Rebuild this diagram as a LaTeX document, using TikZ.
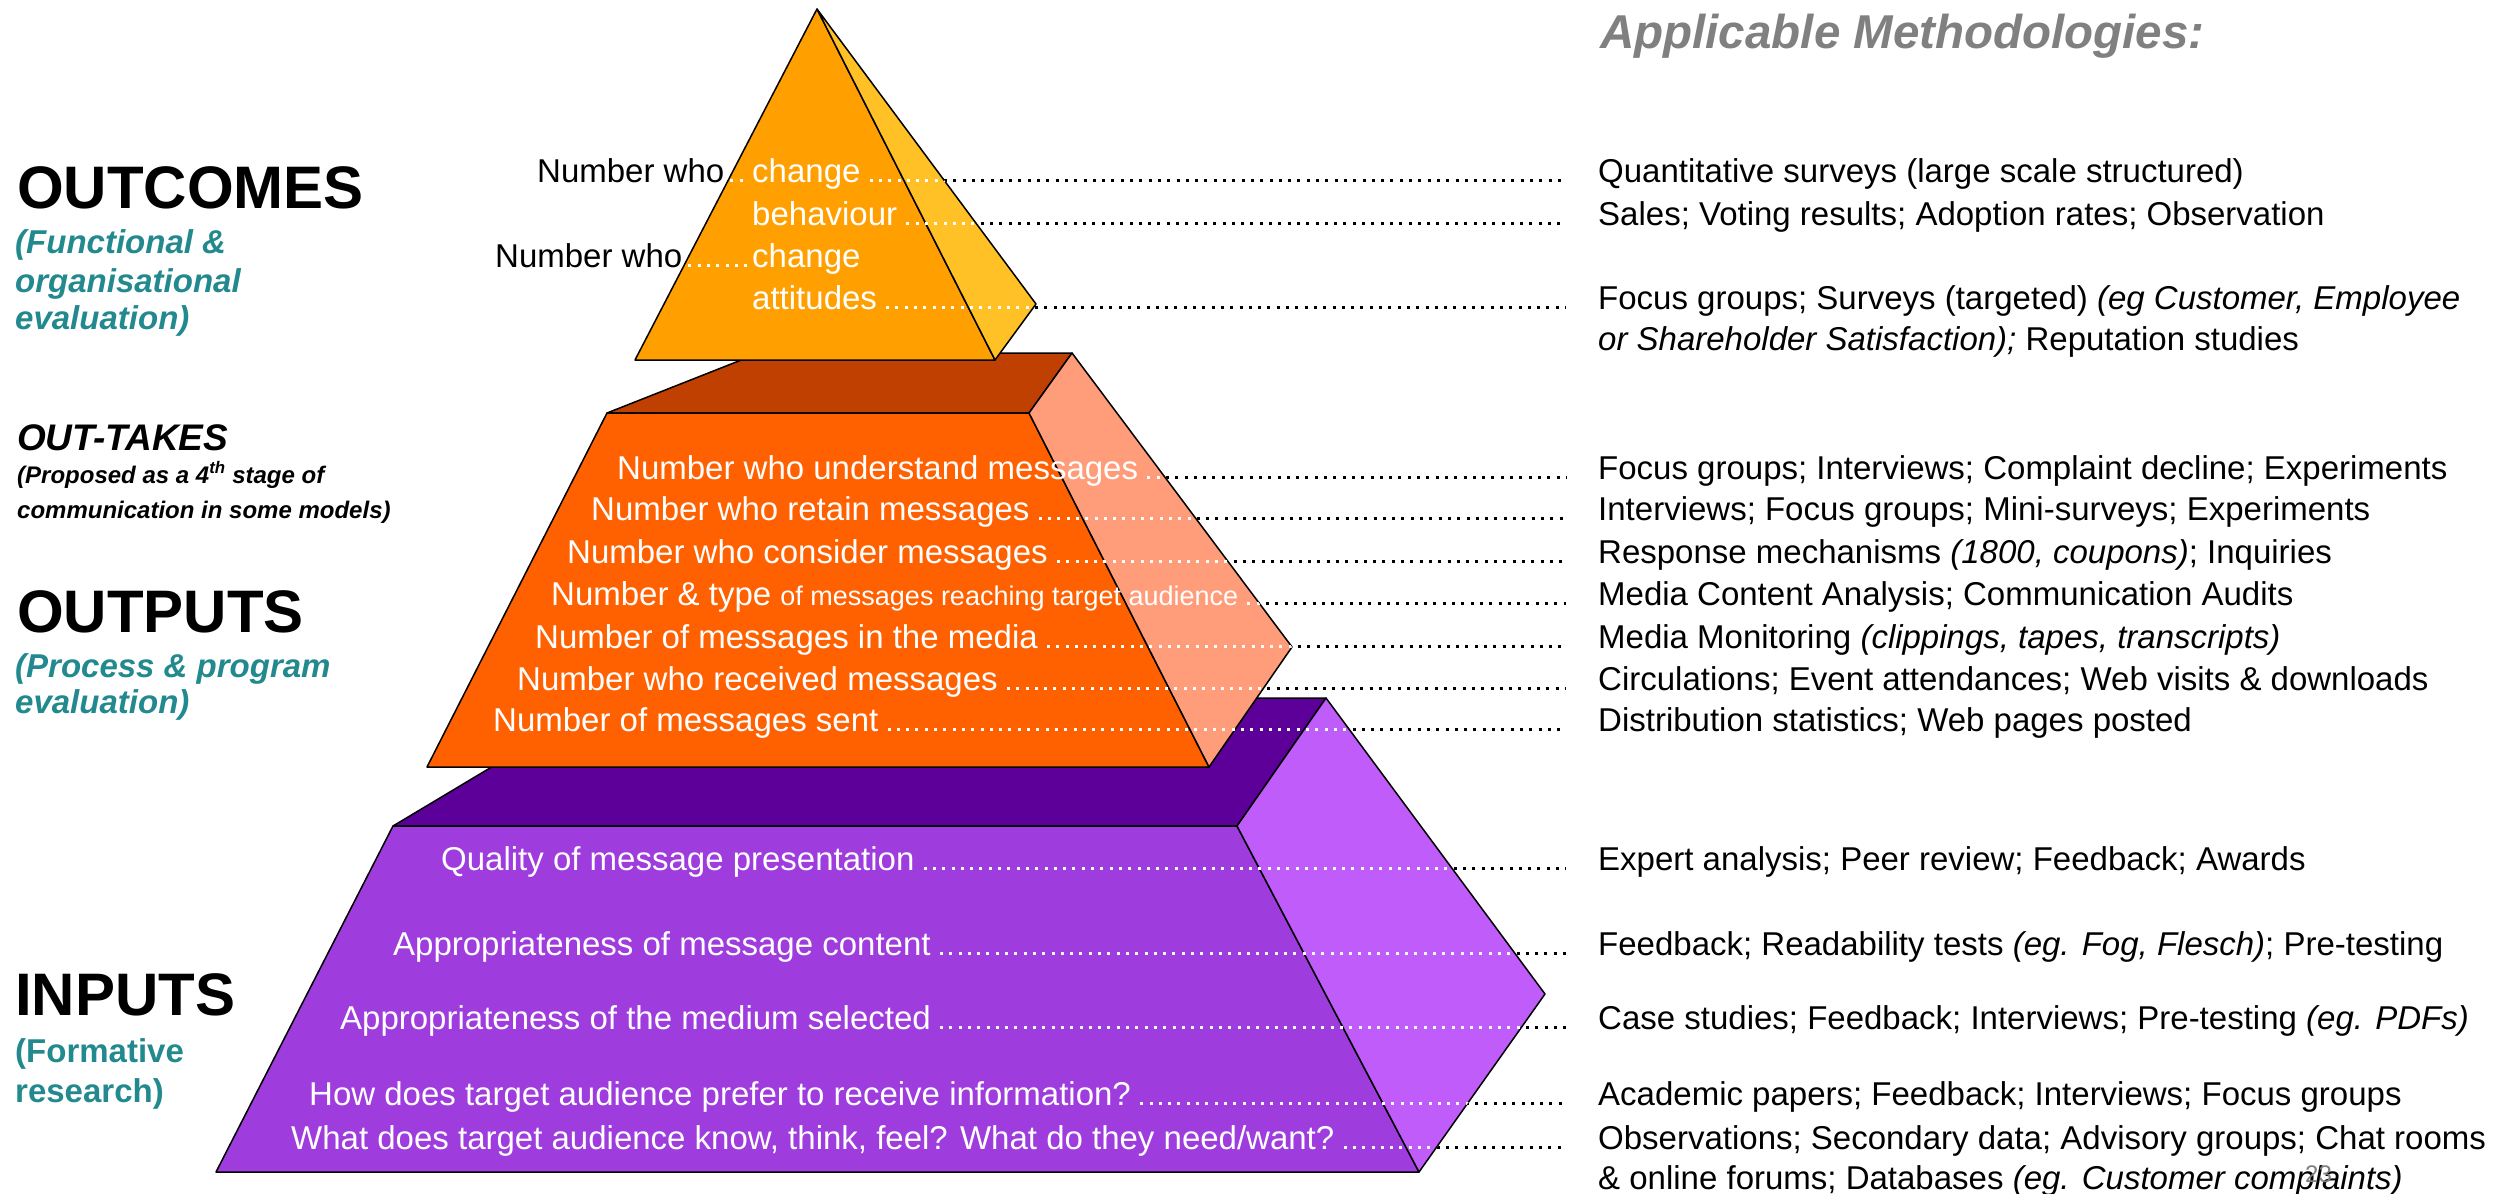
\documentclass[tikz,border=0pt]{standalone}
\usepackage{fontspec}
\setmainfont{Liberation Sans}
\definecolor{pyrfront}{HTML}{FFA000}
\definecolor{pyrside}{HTML}{FFC125}
\definecolor{outtop}{HTML}{BF4000}
\definecolor{outfront}{HTML}{FF6000}
\definecolor{outside}{HTML}{FF9D7A}
\definecolor{intop}{HTML}{5C0099}
\definecolor{infront}{HTML}{9E3CDD}
\definecolor{inside}{HTML}{BF5CFA}
\definecolor{tealtxt}{HTML}{22898E}
\definecolor{headgray}{HTML}{808080}
\begin{document}
\begin{tikzpicture}[x=1pt,y=-1pt,
  lbl/.style={anchor=base west, inner sep=0pt, font=\fontsize{33}{38}\selectfont},
  wlbl/.style={lbl, text=white},
  meth/.style={lbl, text=black},
  bighead/.style={anchor=base west, inner sep=0pt, font=\fontsize{60}{66}\selectfont\bfseries},
  subhead/.style={anchor=base west, inner sep=0pt, text=tealtxt, font=\fontsize{33}{38}\selectfont\bfseries\itshape},
  face/.style={draw=black, line width=1.5pt, line join=round},
  bdots/.style={draw=black, line width=3pt, dash pattern=on 3pt off 6.3pt},
  wdots/.style={draw=white, line width=3pt, dash pattern=on 3pt off 6.3pt}]
\useasboundingbox (0,0) rectangle (2506,1194);

% ---------- INPUTS block (back)
\filldraw[face, fill=intop] (393,826) -- (607,698) -- (1326,698) -- (1237,826) -- cycle;
\filldraw[face, fill=infront] (393,826) -- (1237,826) -- (1419,1172) -- (216,1172) -- cycle;
\filldraw[face, fill=inside] (1237,826) -- (1326,698) -- (1545,994) -- (1419,1172) -- cycle;

% ---------- OUTPUTS block
\filldraw[face, fill=outtop] (607,413) -- (759,353) -- (1072,353) -- (1029,413) -- cycle;
\filldraw[face, fill=outfront] (607,413) -- (1029,413) -- (1209,767) -- (427,767) -- cycle;
\filldraw[face, fill=outside] (1029,413) -- (1072,353) -- (1292,647) -- (1209,767) -- cycle;

% ---------- OUTCOMES pyramid
\filldraw[face, fill=pyrfront] (817,9) -- (635,360) -- (995,360) -- cycle;
\filldraw[face, fill=pyrside] (817,9) -- (995,360) -- (1036,304) -- cycle;

% ---------- left headings
\node[bighead] (hout) at (17,208) {OUTCOMES};
\node[subhead] (hout1) at (15,253) {(Functional \&};
\node[subhead] (hout2) at (15,292) {organisational};
\node[subhead] (hout3) at (15,329) {evaluation)};
\node[anchor=base west, inner sep=0pt, font=\fontsize{37}{42}\selectfont\bfseries\itshape] (htake) at (17,450) {OUT-TAKES};
\node[anchor=base west, inner sep=0pt, font=\fontsize{24}{28}\selectfont\bfseries\itshape] (htake1) at (17,483) {(Proposed as a 4\textsuperscript{th} stage of};
\node[anchor=base west, inner sep=0pt, font=\fontsize{24}{28}\selectfont\bfseries\itshape] (htake2) at (17,518) {communication in some models)};
\node[bighead] (hop) at (17,632) {OUTPUTS};
\node[subhead] (hop1) at (15,677) {(Process \& program};
\node[subhead] (hop2) at (15,713) {evaluation)};
\node[bighead] (hin) at (15,1015) {INPUTS};
\node[subhead, font=\fontsize{33}{38}\selectfont\bfseries] (hin1) at (15,1062) {(Formative};
\node[subhead, font=\fontsize{33}{38}\selectfont\bfseries] (hin2) at (15,1102) {research)};

% ---------- right heading
\node[anchor=base west, inner sep=0pt, text=headgray, font=\fontsize{47.5}{53}\selectfont\bfseries\itshape] (happ) at (1600,48) {Applicable Methodologies:};

% ---------- pyramid labels
\node[lbl] (nw1) at (537,182) {Number who};
\node[wlbl] (ch1) at (752,182) {change};
\node[wlbl] (bh) at (752,225) {behaviour};
\node[lbl] (nw2) at (495,267) {Number who};
\node[wlbl] (ch2) at (752,267) {change};
\node[wlbl] (att) at (752,309) {attitudes};

% ---------- outputs labels
\node[wlbl] (o1) at (617,479) {Number who understand messages};
\node[wlbl] (o2) at (591,520) {Number who retain messages};
\node[wlbl] (o3) at (567,563) {Number who consider messages};
\node[wlbl] (o4) at (551,605) {Number \& type {\fontsize{27}{30}\selectfont of messages reaching target audience}};
\node[wlbl] (o5) at (535,648) {Number of messages in the media};
\node[wlbl] (o6) at (517,690) {Number who received messages};
\node[wlbl] (o7) at (493,731) {Number of messages sent};

% ---------- inputs labels
\node[wlbl] (i1) at (441,870) {Quality of message presentation};
\node[wlbl] (i2) at (393,955) {Appropriateness of message content};
\node[wlbl] (i3) at (340,1029) {Appropriateness of the medium selected};
\node[wlbl] (i4) at (309,1105) {How does target audience prefer to receive information?};
\node[wlbl] (i5) at (291,1149) {What does target audience know, think, feel? What do they need/want?};

% ---------- methodologies
\node[meth] (m1) at (1598,182) {Quantitative surveys (large scale structured)};
\node[meth] (m2) at (1598,225) {Sales; Voting results; Adoption rates; Observation};
\node[meth] (m3) at (1598,309) {Focus groups; Surveys (targeted) \textit{(eg Customer, Employee}};
\node[meth] (m3b) at (1598,350) {\textit{or Shareholder Satisfaction);} Reputation studies};
\node[meth] (n1) at (1598,479) {Focus groups; Interviews; Complaint decline; Experiments};
\node[meth] (n2) at (1598,520) {Interviews; Focus groups; Mini-surveys; Experiments};
\node[meth] (n3) at (1598,563) {Response mechanisms \textit{(1800, coupons)}; Inquiries};
\node[meth] (n4) at (1598,605) {Media Content Analysis; Communication Audits};
\node[meth] (n5) at (1598,648) {Media Monitoring \textit{(clippings, tapes, transcripts)}};
\node[meth] (n6) at (1598,690) {Circulations; Event attendances; Web visits \& downloads};
\node[meth] (n7) at (1598,731) {Distribution statistics; Web pages posted};
\node[meth] (p1) at (1598,870) {Expert analysis; Peer review; Feedback; Awards};
\node[meth] (p2) at (1598,955) {Feedback; Readability tests \textit{(eg. Fog, Flesch)}; Pre-testing};
\node[meth] (p3) at (1598,1029) {Case studies; Feedback; Interviews; Pre-testing \textit{(eg. PDFs)}};
\node[meth] (p4) at (1598,1105) {Academic papers; Feedback; Interviews; Focus groups};
\node[meth] (p5) at (1598,1149) {Observations; Secondary data; Advisory groups; Chat rooms};
\node[meth] (p5b) at (1598,1189) {\& online forums; Databases \textit{(eg. Customer complaints)}};
\node[anchor=base west, inner sep=0pt, text=headgray, font=\fontsize{24}{28}\selectfont] (pg) at (2305,1182) {23};

% ---------- dotted leaders
\def\rowpairs{ch1/m1, bh/m2, att/m3, o1/n1, o2/n2, o3/n3, o4/n4, o5/n5, o6/n6, o7/n7, i1/p1, i2/p2, i3/p3, i4/p4, i5/p5}
\def\innerpairs{nw1/ch1, nw2/ch2}
\foreach \a/\b in \rowpairs
  \draw[bdots] ([xshift=9pt,yshift=2pt]\a.base east) -- ([xshift=-32pt,yshift=2pt]\b.base west);
\foreach \a/\b in \innerpairs
  \draw[bdots] ([xshift=6pt,yshift=2pt]\a.base east) -- ([xshift=-3pt,yshift=2pt]\b.base west);

\begin{scope}
  \clip (817,9) -- (635,360) -- (995,360) -- (1036,304) -- cycle;
  \foreach \a/\b in \rowpairs
    \draw[wdots] ([xshift=9pt,yshift=2pt]\a.base east) -- ([xshift=-32pt,yshift=2pt]\b.base west);
  \foreach \a/\b in \innerpairs
    \draw[wdots] ([xshift=6pt,yshift=2pt]\a.base east) -- ([xshift=-3pt,yshift=2pt]\b.base west);
\end{scope}
\begin{scope}
  \clip (427,767) -- (607,413) -- (759,353) -- (1072,353) -- (1292,647) -- (1209,767) -- cycle;
  \foreach \a/\b in \rowpairs
    \draw[wdots] ([xshift=9pt,yshift=2pt]\a.base east) -- ([xshift=-32pt,yshift=2pt]\b.base west);
\end{scope}
\begin{scope}
  \clip (216,1172) -- (393,826) -- (607,698) -- (1326,698) -- (1545,994) -- (1419,1172) -- cycle;
  \foreach \a/\b in \rowpairs
    \draw[wdots] ([xshift=9pt,yshift=2pt]\a.base east) -- ([xshift=-32pt,yshift=2pt]\b.base west);
\end{scope}
\end{tikzpicture}
\end{document}
